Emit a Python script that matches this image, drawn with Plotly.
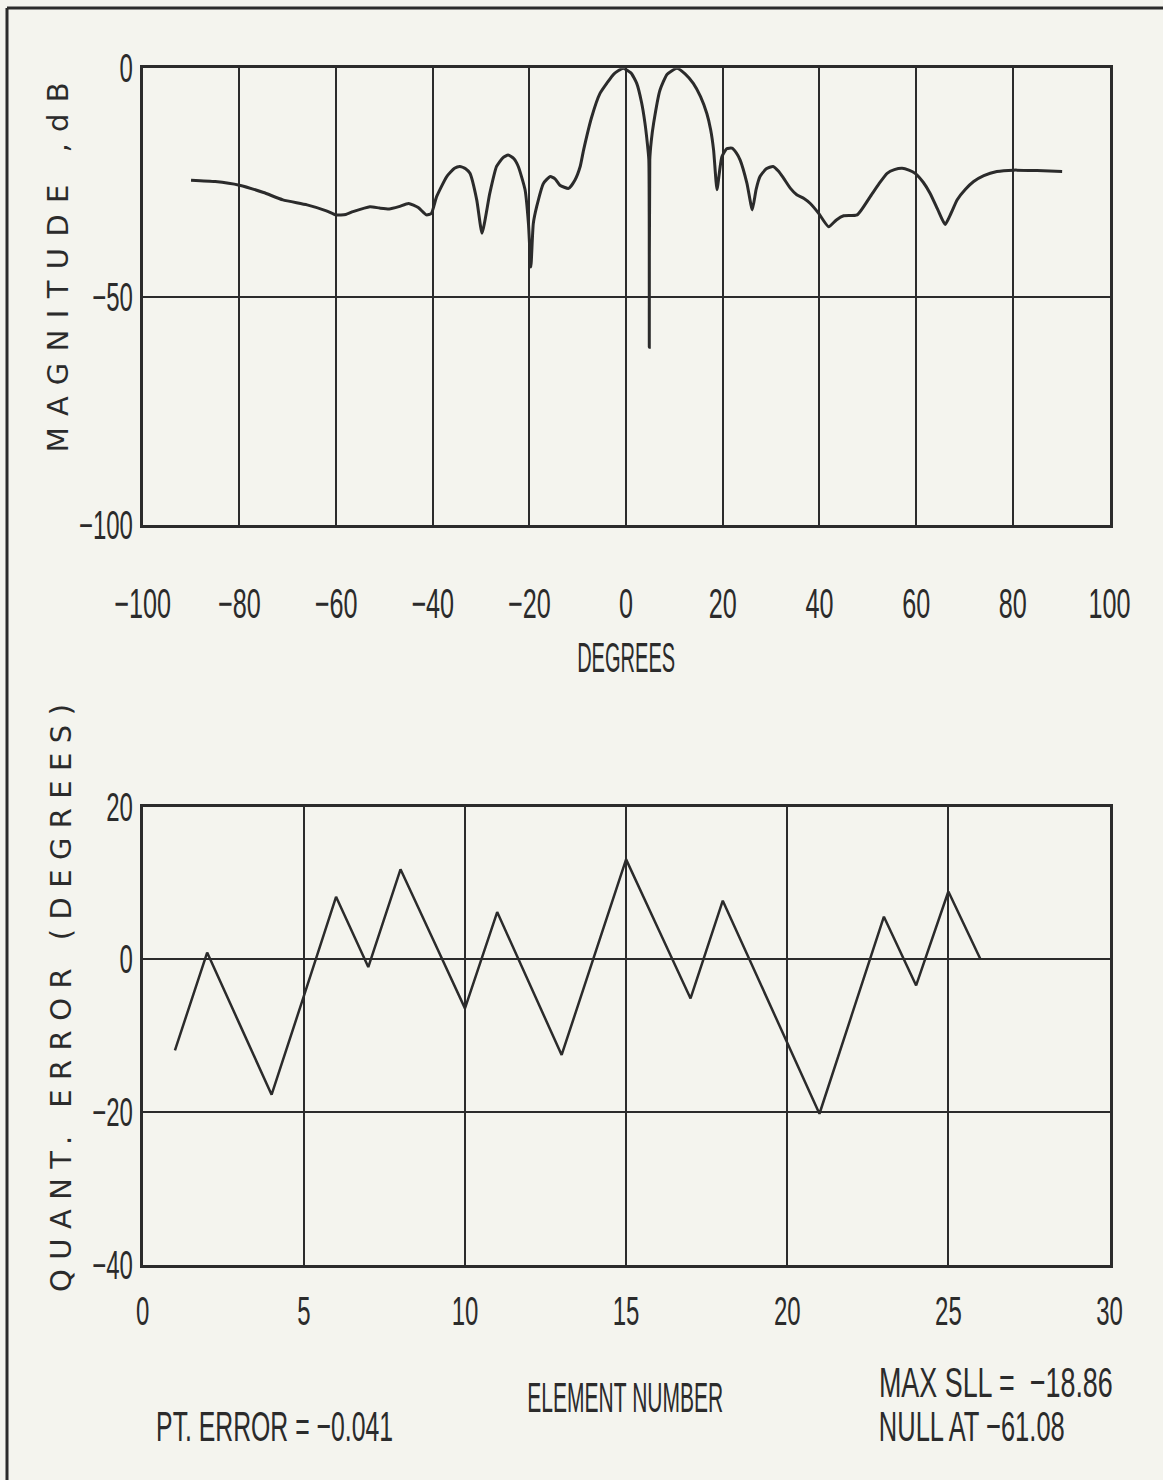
import json
import plotly.graph_objects as go

# ---- data: array pattern (top) ----
pattern_deg = [-90, -85, -80, -75, -71, -66, -62, -60, -58, -56.5, -53, -51, -49, -47, -45, -43,
               -41.3, -40.3, -39.2, -37.1, -35.5, -34.4, -33.2, -32.3, -30.9, -29.8, -28.2, -26.8,
               -25.5, -24.4, -23.2, -22.3, -20.9, -20.2, -19.7, -19.2, -18.5, -17.1, -15.7, -14.7,
               -13.7, -11.9, -10.6, -9.5, -8.8, -7.1, -5.4, -4.0, -2.5, -0.6, 1.0, 2.2, 3.2, 3.9,
               4.4, 4.7, 4.8, 4.9, 5.2, 5.7, 7.0, 8.5, 10.5, 12.2, 13.9, 15.4, 16.7, 17.5, 18.1,
               18.8, 19.4, 19.8, 20.8, 21.9, 22.8, 23.6, 25.0, 26.1, 26.9, 27.7, 29.0, 30.4, 31.5,
               32.6, 34.0, 35.3, 36.8, 38.1, 39.8, 41.9, 43.5, 45.0, 47.8, 50.5, 52.3, 54.0, 55.5,
               57.1, 58.5, 59.8, 61.5, 62.9, 64.5, 66.0, 67.2, 68.5, 70.2, 71.9, 74.0, 76.7, 80.2,
               85.0, 90.2]
pattern_db = [-24.5, -24.8, -25.6, -27.2, -28.8, -29.9, -31.2, -32.1, -32.0, -31.4, -30.3, -30.6,
              -30.8, -30.3, -29.6, -30.5, -32.1, -31.8, -28.1, -23.7, -21.9, -21.5, -22.0, -23.0,
              -28.8, -36.1, -27.4, -21.5, -19.6, -19.0, -19.8, -21.5, -26.6, -34.0, -43.5, -34.0,
              -30.3, -25.2, -23.7, -24.2, -25.6, -26.3, -24.5, -21.5, -17.9, -10.6, -5.5, -3.3,
              -1.2, 0.0, -1.0, -3.3, -7.5, -12.0, -16.5, -20.0, -61.1, -20.0, -16.0, -12.0, -4.8,
              -1.3, 0.0, -1.2, -3.3, -6.2, -9.9, -13.5, -17.9, -26.6, -22.0, -19.4, -17.6, -17.5,
              -18.5, -20.1, -25.2, -31.0, -26.5, -23.7, -22.0, -21.5, -22.5, -24.1, -26.3, -27.7,
              -28.5, -29.6, -31.7, -34.7, -33.2, -32.3, -32.1, -28.1, -25.3, -23.0, -22.2, -21.9,
              -22.3, -23.0, -25.0, -27.4, -31.0, -34.2, -31.8, -28.8, -26.5, -24.8, -23.5, -22.6,
              -22.3, -22.4, -22.6]

# ---- data: quantization error (bottom) ----
element = list(range(1, 27))
quant_err = [-11.9, 0.9, -8.4, -17.7, -4.8, 8.2, -1.0, 11.8, 2.7, -6.4, 6.2, -3.2, -12.5,
             0.3, 13.1, 4.0, -5.1, 7.7, -1.6, -10.9, -20.2, -7.3, 5.6, -3.4, 8.9, 0.0]

top_ticks_x = [-100, -80, -60, -40, -20, 0, 20, 40, 60, 80, 100]
top_ticks_y = [-100, -50, 0]
bot_ticks_x = [0, 5, 10, 15, 20, 25, 30]
bot_ticks_y = [-40, -20, 0, 20]

INK = "#2b2b2b"
BG = "#f4f4ee"
NARROW = "Liberation Sans, Arial, sans-serif"
WIDE = "DejaVu Sans, Verdana, sans-serif"
W, H = 1163, 1480


def py(p):
    return 1 - p / H


fig = go.Figure()
fig.add_trace(go.Scatter(x=pattern_deg, y=pattern_db, mode="lines",
                         line=dict(color=INK, width=3, shape="spline", smoothing=0.5),
                         xaxis="x", yaxis="y", showlegend=False, hoverinfo="skip"))
fig.add_trace(go.Scatter(x=element, y=quant_err, mode="lines",
                         line=dict(color=INK, width=2.5),
                         xaxis="x2", yaxis="y2", showlegend=False, hoverinfo="skip"))


def axis(size, **kw):
    d = dict(showgrid=True, gridcolor=INK, gridwidth=2, showline=True, linecolor=INK,
             linewidth=2.5, mirror=True, zeroline=False, ticks="", automargin=False,
             tickfont=dict(family=NARROW, size=size, color=INK))
    d.update(kw)
    return d


x0, x1 = 142.7 / W, 1109.5 / W
fig.update_layout(
    width=W, height=H, margin=dict(l=0, r=0, t=0, b=0, pad=0),
    paper_bgcolor=BG, plot_bgcolor=BG,
    xaxis=axis(42, domain=[x0, x1], range=[-100, 100], tickvals=top_ticks_x, anchor="y",
               ticklabelstandoff=40),
    yaxis=axis(40, domain=[py(525), py(68.3)], range=[-100, 0], tickvals=top_ticks_y,
               anchor="x", ticklabelstandoff=-1),
    xaxis2=axis(40, domain=[x0, x1], range=[0, 30], tickvals=bot_ticks_x, anchor="y2",
                ticklabelstandoff=9),
    yaxis2=axis(40, domain=[py(1265), py(806.7)], range=[-40, 20], tickvals=bot_ticks_y,
                anchor="x2", ticklabelstandoff=-1),
)

# (text, centre x px, centre y px, angle, family, size, drawn width px, mode)
# mode "space": widen by letter spacing;  mode "squeeze": condense glyphs horizontally
labels = [
    ("MAGNITUDE ,dB", 58, 268, -90, WIDE, 29, 370, "space"),
    ("QUANT. ERROR (DEGREES)", 61, 998, -90, WIDE, 29, 588, "space"),
    ("DEGREES", 626, 657, 0, NARROW, 43, 98, "squeeze"),
    ("ELEMENT NUMBER", 625, 1397, 0, NARROW, 43, 196, "squeeze"),
    ("PT. ERROR = \u22120.041", 274, 1426, 0, NARROW, 43, 237, "squeeze"),
    ("MAX SLL =  \u221218.86", 996, 1382, 0, NARROW, 43, 234, "squeeze"),
    ("NULL AT \u221261.08", 972, 1426, 0, NARROW, 43, 186, "squeeze"),
]
ann = []
for text, cx, cy, ang, fam, size, _, _ in labels:
    ann.append(dict(text=text, x=cx / W, y=py(cy), xref="paper", yref="paper",
                    xanchor="center", yanchor="middle", textangle=ang, showarrow=False,
                    font=dict(family=fam, size=size, color=INK)))
fig.update_layout(annotations=ann)

# page frame (scanned sheet edge, left and top)
fig.add_shape(type="line", xref="paper", yref="paper", x0=7 / W, x1=1.0, y0=py(8), y1=py(8),
              line=dict(color=INK, width=3))
fig.add_shape(type="line", xref="paper", yref="paper", x0=7 / W, x1=7 / W, y0=0, y1=py(8),
              line=dict(color=INK, width=3))

targets = json.dumps([[l[6], l[7]] for l in labels])
post = """
document.body.style.margin='0';
var gd=document.getElementById('{plot_id}');
function squeeze(t, s){
  var x=parseFloat(t.getAttribute('x')||'0');
  var tr=t.getAttribute('transform')||'';
  t.setAttribute('transform', tr+' translate('+x+',0) scale('+s.toFixed(4)+',1) translate('+(-x)+',0)');
}
gd.querySelectorAll('g.xtick text, g.ytick text, g.x2tick text, g.y2tick text').forEach(function(t){
  squeeze(t, 0.6);
});
var tg=%s;
gd.querySelectorAll('g.annotation').forEach(function(g){
  var i=parseInt(g.getAttribute('data-index'));
  var t=g.querySelector('text.annotation-text');
  if(!t || !tg[i]) return;
  if(tg[i][1]==='space'){
    t.setAttribute('textLength', tg[i][0]);
    t.setAttribute('lengthAdjust', 'spacing');
  } else {
    squeeze(t, tg[i][0]/t.getComputedTextLength());
  }
});
""" % targets

fig.write_html("out.html", post_script=post, config={"displayModeBar": False})
